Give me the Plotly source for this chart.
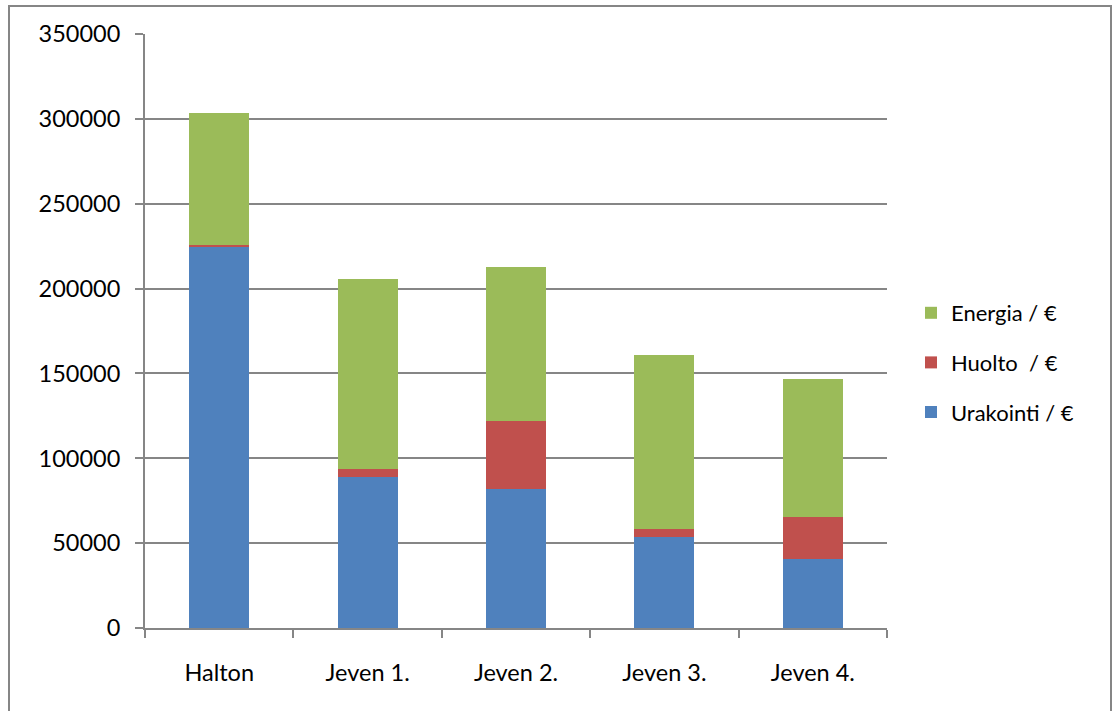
import plotly.graph_objects as go

categories = ["Halton", "Jeven 1.", "Jeven 2.", "Jeven 3.", "Jeven 4."]
urakointi = [224500, 89000, 82000, 53600, 40700]
huolto = [1200, 4700, 40000, 4700, 24700]
energia = [77700, 111900, 90700, 102600, 81300]
y_ticks = [0, 50000, 100000, 150000, 200000, 250000, 300000, 350000]

series = [
    ("Urakointi / €", urakointi, "#4F81BD"),
    ("Huolto  / €", huolto, "#C0504D"),
    ("Energia / €", energia, "#9BBB59"),
]

fig = go.Figure()
for i, (name, vals, col) in enumerate(series):
    fig.add_trace(go.Bar(
        x=categories, y=vals, name=name, marker_color=col,
        marker_line_width=0, legendgroup=f"g{i}",
        legendrank=1000 - i,
    ))

GRID = "#868686"
L, R, T, B = 145, 887, 34, 628
W, H = 1112, 711
pw, ph = R - L, B - T

fig.update_layout(
    width=W, height=H,
    margin=dict(l=L, r=W - R, t=T, b=H - B, pad=0),
    barmode="stack", bargap=0.595,
    plot_bgcolor="white", paper_bgcolor="white",
    font=dict(family="Lato, 'Open Sans', sans-serif", size=23.5, color="black"),
    legend=dict(
        x=(911 - L) / pw, y=(B - 292) / ph, xanchor="left", yanchor="top",
        traceorder="grouped", tracegroupgap=18,
        font=dict(size=22), bgcolor="rgba(0,0,0,0)",
    ),
    xaxis=dict(
        showgrid=False, showline=True, linecolor=GRID, linewidth=2,
        ticks="outside", tickson="boundaries", ticklen=8, tickcolor=GRID,
        tickwidth=2, ticklabelstandoff=23,
    ),
    yaxis=dict(
        range=[0, 350000], tickvals=y_ticks, ticktext=[str(v) for v in y_ticks],
        showgrid=True, gridcolor=GRID, gridwidth=2, zeroline=False,
        showline=True, linecolor=GRID, linewidth=2,
        ticks="outside", ticklen=8, tickcolor=GRID, tickwidth=2,
        ticklabelstandoff=10,
    ),
    showlegend=True,
)

fig.add_shape(
    type="rect", xref="paper", yref="paper",
    x0=(9 - L) / pw, x1=(1111 - L) / pw,
    y0=(B - 720) / ph, y1=(B - 6) / ph,
    line=dict(color=GRID, width=2), fillcolor="rgba(0,0,0,0)", layer="below",
)

fig.write_html("out.html")
